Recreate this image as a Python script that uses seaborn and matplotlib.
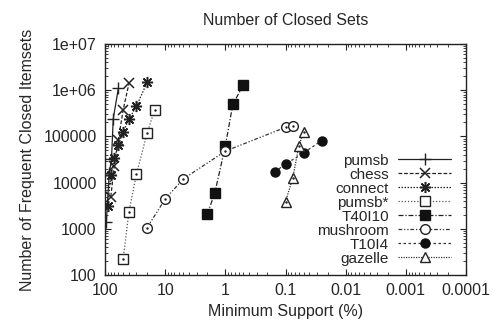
import numpy as np
import pandas as pd
import matplotlib
matplotlib.use("Agg")
import matplotlib.pyplot as plt
import matplotlib.ticker as mticker
import seaborn as sns

# Minimum support (%) and number of frequent closed itemsets per dataset
pumsb_sup = [95, 85, 78, 73, 60]
pumsb_cnt = [1400, 16000, 32000, 240000, 1100000]

chess_sup = [80, 70, 60, 50, 40]
chess_cnt = [5000, 23000, 85000, 370000, 1400000]

connect_sup = [90, 80, 70, 60, 50, 40, 30, 20]
connect_cnt = [3100, 14600, 34000, 65000, 126000, 234000, 450000, 1470000]

pumsbs_sup = [50, 40, 30, 20, 15]
pumsbs_cnt = [220, 2340, 15300, 117000, 370000]

t40_sup = [2, 1.5, 1, 0.75, 0.5]
t40_cnt = [2060, 5900, 62000, 500000, 1300000]

mush_sup = [20, 10, 5, 1, 0.1, 0.075]
mush_cnt = [1060, 4400, 12000, 48000, 157000, 168000]

t10_sup = [0.15, 0.1, 0.05, 0.025]
t10_cnt = [17200, 25000, 44000, 81000]

gaz_sup = [0.1, 0.076, 0.06, 0.05]
gaz_cnt = [3860, 12400, 62000, 126000]

names = ["pumsb", "chess", "connect", "pumsb*", "T40I10", "mushroom", "T10I4", "gazelle"]
sups = [pumsb_sup, chess_sup, connect_sup, pumsbs_sup, t40_sup, mush_sup, t10_sup, gaz_sup]
cnts = [pumsb_cnt, chess_cnt, connect_cnt, pumsbs_cnt, t40_cnt, mush_cnt, t10_cnt, gaz_cnt]

x_ticks = [100, 10, 1, 0.1, 0.01, 0.001, 0.0001]
x_labels = ["100", "10", "1", "0.1", "0.01", "0.001", "0.0001"]
y_ticks = [100, 1000, 10000, 100000, 1000000, 10000000]
y_labels = ["100", "1000", "10000", "100000", "1e+06", "1e+07"]

sns.set_style("ticks")
plt.rcParams["font.family"] = ["Liberation Sans", "DejaVu Sans"]

styles = {
    "pumsb":    dict(marker="+", ls="-", color="#222222", ms=8, mfc="none", mew=1.0),
    "chess":    dict(marker="x", ls=(0, (3, 1.5)), color="#222222", ms=6.5, mfc="none", mew=1.1),
    "connect":  dict(marker=(8, 2, 0), ls=(0, (1.2, 1.2)), color="#222222", ms=8, mfc="none", mew=1.1),
    "pumsb*":   dict(marker="s", ls=(0, (1, 1.5)), color="#555555", ms=6.5, mfc="white", mec="#222222", mew=1.0),
    "T40I10":   dict(marker="s", ls=(0, (4, 1.5, 1, 1.5)), color="#222222", ms=7, mfc="#111111", mec="#111111", mew=1.0),
    "mushroom": dict(marker="o", ls=(0, (3, 1.5, 1, 1.5, 1, 1.5)), color="#333333", ms=7, mfc="white", mec="#222222", mew=1.0),
    "T10I4":    dict(marker="o", ls=(0, (2, 2)), color="#333333", ms=6.5, mfc="#111111", mec="#111111", mew=1.0),
    "gazelle":  dict(marker="^", ls=(0, (1, 1)), color="#333333", ms=6.5, mfc="white", mec="#222222", mew=1.0),
}
center_dot = {"pumsb*", "mushroom", "gazelle"}

fig = plt.figure(figsize=(4.93, 3.26), dpi=100)
ax = fig.add_axes([105 / 493, 51 / 326, 361 / 493, 231 / 326])

for name, s, c in zip(names, sups, cnts):
    st = styles[name]
    df = pd.DataFrame({"support": s, "count": c})
    sns.lineplot(data=df, x="support", y="count", ax=ax, sort=False,
                 color=st["color"], linestyle=st["ls"], linewidth=0.9,
                 marker=st["marker"], markersize=st["ms"],
                 markerfacecolor=st["mfc"], markeredgecolor=st.get("mec", st["color"]),
                 markeredgewidth=st["mew"], label=name)
    if name in center_dot:
        ax.plot(s, c, ls="none", marker=".", ms=1.5, color="#222222")

ax.set_xscale("log")
ax.set_yscale("log")
ax.set_xlim(100, 0.0001)
ax.set_ylim(100, 1e7)
ax.set_xticks(x_ticks)
ax.set_xticklabels(x_labels)
ax.set_yticks(y_ticks)
ax.set_yticklabels(y_labels)
ax.xaxis.set_minor_locator(mticker.LogLocator(base=10, subs=np.arange(2, 10) * 1.0, numticks=20))
ax.yaxis.set_minor_locator(mticker.LogLocator(base=10, subs=np.arange(2, 10) * 1.0, numticks=20))
ax.xaxis.set_minor_formatter(mticker.NullFormatter())
ax.yaxis.set_minor_formatter(mticker.NullFormatter())

ax.tick_params(which="both", direction="in", top=True, right=True,
               labelsize=11.5, color="#222222")
ax.tick_params(which="major", length=4, width=0.8, pad=6)
ax.tick_params(which="minor", length=2, width=0.6)
for sp in ax.spines.values():
    sp.set_linewidth(1.0)
    sp.set_color("#222222")

ax.set_xlabel("Minimum Support (%)", fontsize=11.5, labelpad=4)
ax.set_ylabel("Number of Frequent Closed Itemsets", fontsize=11.5, labelpad=6)
ax.set_title("Number of Closed Sets", fontsize=11.5, pad=14)

leg = ax.legend(loc="lower right", frameon=False, markerfirst=False,
                fontsize=11, handlelength=3.5, handletextpad=0.6,
                labelspacing=0.0, borderaxespad=0.2, bbox_to_anchor=(0.985, 0.0))

fig.savefig("out.png", dpi=100)
